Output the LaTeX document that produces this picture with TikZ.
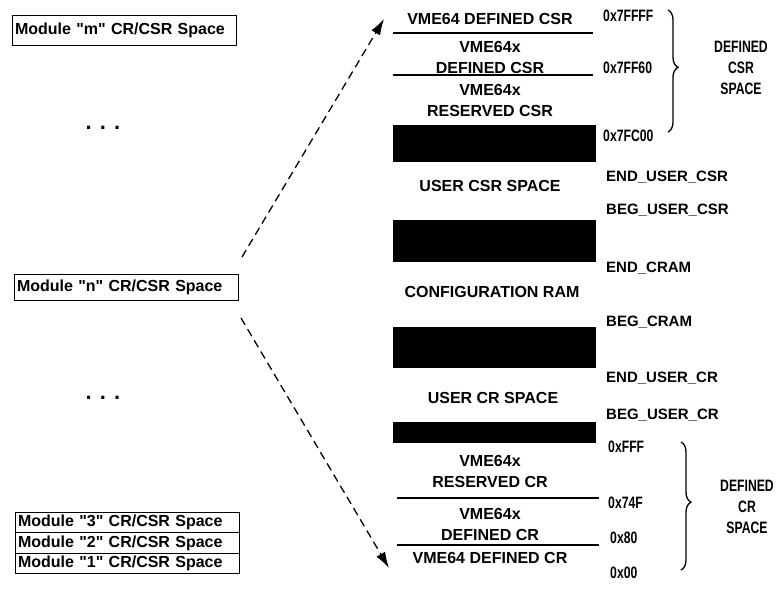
\documentclass[tikz,border=0pt]{standalone}
\usepackage{fontspec}
\setmainfont{Liberation Sans}
\newfontfamily\narrowsans[FakeStretch=0.74]{Liberation Sans}
\usetikzlibrary{positioning,arrows.meta,decorations.pathreplacing}

\tikzset{
	modbox/.style={draw, line width=1pt, anchor=west, align=left, text width=218pt,
		inner xsep=3pt, inner ysep=0.5pt, minimum height=20.5pt, outer sep=0pt,
		font=\bfseries\fontsize{16}{18}\selectfont},
	memtext/.style={align=center, inner sep=0pt, font=\bfseries\fontsize{16}{21}\selectfont},
	addr/.style={anchor=west, inner sep=0pt, font=\bfseries\fontsize{15}{17}\selectfont},
	hexaddr/.style={anchor=west, inner sep=0pt, font=\narrowsans\bfseries\fontsize{16.5}{17}\selectfont},
	sidetext/.style={align=center, inner sep=0pt, font=\narrowsans\bfseries\fontsize{16.5}{21}\selectfont},
	memrule/.style={line width=1.4pt},
	memblock/.style={fill=black, draw=none},
	maparrow/.style={line width=1.3pt, dash pattern=on 8pt off 5pt, -{Latex[length=16pt,width=10pt]}},
	membrace/.style={line width=1.3pt, decorate, decoration={brace, amplitude=10pt, aspect=0.47}}
}

\begin{document}
\begin{tikzpicture}[x=1pt, y=-1pt]
	\useasboundingbox (0,0) rectangle (783,590);
	
	% Module spaces
	\node[modbox, minimum height=30pt] (modm) at (12,30) {Module \textquotedbl m\textquotedbl{} CR/CSR Space};
	\node[font=\bfseries\fontsize{22}{22}\selectfont, anchor=base] (dotsup) at (103,129) {. . .};
	\node[modbox, minimum height=26pt] (modn) at (14,287) {Module \textquotedbl n\textquotedbl{} CR/CSR Space};
	\node[font=\bfseries\fontsize{22}{22}\selectfont, anchor=base] (dotsdown) at (103,399) {. . .};
	\node[modbox] (mod3) at (15,522.5) {Module \textquotedbl 3\textquotedbl{} CR/CSR Space};
	\node[modbox, below=0pt of mod3] (mod2) {Module \textquotedbl 2\textquotedbl{} CR/CSR Space};
	\node[modbox, below=0pt of mod2] (mod1) {Module \textquotedbl 1\textquotedbl{} CR/CSR Space};
	
	% Arrows to the map
	\coordinate (upstart) at (242,257);
	\coordinate (uptip) at (384,19);
	\coordinate (downstart) at (241,318);
	\coordinate (downtip) at (389,568);
	\draw[maparrow] (upstart) -- (uptip);
	\draw[maparrow] (downstart) -- (downtip);
	
	% Memory map
	\node[memtext] (csr64) at (490,19) {VME64 DEFINED CSR};
	\draw[memrule] (393,33) -- (593,33);
	\node[memtext] (csr64x) at (490,57) {VME64x\\DEFINED CSR};
	\draw[memrule] (393,75) -- (593,75);
	\node[memtext] (csrres) at (490,100) {VME64x\\RESERVED CSR};
	\foreach \ytop/\ybot in {125/162, 220/262, 327/368, 422/443}
		\fill[memblock] (393,\ytop) rectangle (596,\ybot);
	\node[memtext] (usercsr) at (490,186) {USER CSR SPACE};
	\node[memtext] (cram) at (492,292) {CONFIGURATION RAM};
	\node[memtext] (usercr) at (493,398) {USER CR SPACE};
	\node[memtext] (crres) at (490,471) {VME64x\\RESERVED CR};
	\draw[memrule] (397,498) -- (599,498);
	\node[memtext] (cr64x) at (490,524) {VME64x\\DEFINED CR};
	\draw[memrule] (397,545) -- (599,545);
	\node[memtext] (cr64) at (490,558) {VME64 DEFINED CR};
	
	% Boundaries
	\node[addr] (endusercsr) at (606,177) {END\_USER\_CSR};
	\node[addr] (begusercsr) at (606,210) {BEG\_USER\_CSR};
	\node[addr] (endcram) at (606,268) {END\_CRAM};
	\node[addr] (begcram) at (606,322) {BEG\_CRAM};
	\node[addr] (endusercr) at (606,378) {END\_USER\_CR};
	\node[addr] (begusercr) at (606,415) {BEG\_USER\_CR};
	
	% Addresses
	\node[hexaddr] (a7ffff) at (603,16) {0x7FFFF};
	\node[hexaddr] (a7ff60) at (603,68) {0x7FF60};
	\node[hexaddr] (a7fc00) at (603,136) {0x7FC00};
	\node[hexaddr] (afff) at (608,447) {0xFFF};
	\node[hexaddr] (a74f) at (608,503) {0x74F};
	\node[hexaddr] (a80) at (610,538) {0x80};
	\node[hexaddr] (a00) at (610,573) {0x00};
	
	% Defined spaces
	\draw[membrace] (668,10) -- (668,132);
	\node[sidetext] (csrspace) at (741,68) {DEFINED\\CSR\\SPACE};
	\draw[membrace] (681,442) -- (681,570);
	\node[sidetext] (crspace) at (747,507) {DEFINED\\CR\\SPACE};
\end{tikzpicture}
\end{document}
